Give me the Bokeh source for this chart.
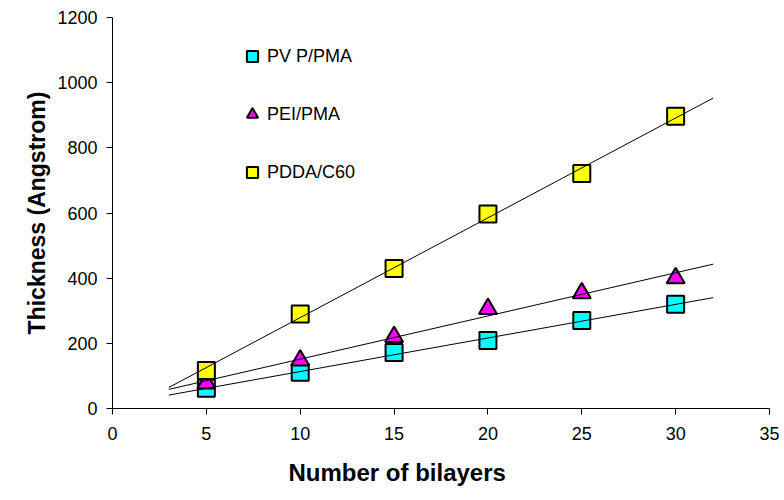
import numpy as np
from bokeh.plotting import figure
from bokeh.models import Range1d, FixedTicker, Legend, LegendItem, Title
from bokeh.embed import file_html
from bokeh.resources import INLINE

bilayers = [5, 10, 15, 20, 25, 30]
pvp_pma = [62, 111, 172, 209, 270, 320]
pei_pma = [77, 148, 220, 306, 354, 400]
pdda_c60 = [117, 290, 430, 597, 721, 897]
series_names = ["PV P/PMA", "PEI/PMA", "PDDA/C60"]
trend_x = [3, 32]
x_ticks = [0, 5, 10, 15, 20, 25, 30, 35]
y_ticks = [0, 200, 400, 600, 800, 1000, 1200]

FONT = "Liberation Sans"

p = figure(width=784, height=500, output_backend="svg", toolbar_location=None,
           x_range=Range1d(0, 35), y_range=Range1d(0, 1200),
           min_border_left=112, min_border_right=15, min_border_top=17, min_border_bottom=5)
p.outline_line_color = None
p.xgrid.visible = False
p.ygrid.visible = False

for ax in (p.xaxis[0], p.yaxis[0]):
    ax.major_tick_in = 0
    ax.major_tick_out = 6
    ax.minor_tick_out = 0
    ax.minor_tick_in = 0
    ax.axis_line_color = "black"
    ax.major_tick_line_color = "black"
    ax.major_label_text_font = FONT
    ax.major_label_text_font_size = "18px"
    ax.major_label_text_color = "black"

p.xaxis.ticker = FixedTicker(ticks=x_ticks)
p.yaxis.ticker = FixedTicker(ticks=y_ticks)
p.xaxis.major_label_standoff = 12
p.yaxis.major_label_standoff = 9

p.yaxis.axis_label = "Thickness (Angstrom)"
p.yaxis.axis_label_text_font = FONT
p.yaxis.axis_label_text_font_style = "bold"
p.yaxis.axis_label_text_font_size = "23px"
p.yaxis.axis_label_text_color = "black"
p.yaxis.axis_label_standoff = 4

r1 = p.scatter(bilayers, pvp_pma, marker="square", size=17, fill_color="#00FFFF",
               line_color="black", line_width=2)
r2 = p.scatter(bilayers, pei_pma, marker="triangle", size=18, fill_color="#FF00FF",
               line_color="black", line_width=2)
r3 = p.scatter(bilayers, pdda_c60, marker="square", size=17, fill_color="#FFFF00",
               line_color="black", line_width=2)

for ys in (pvp_pma, pei_pma, pdda_c60):
    m, b = np.polyfit(bilayers, ys, 1)
    p.line(trend_x, [m * x + b for x in trend_x], line_color="black", line_width=1)

legend = Legend(items=[LegendItem(label=series_names[0], renderers=[r1]),
                       LegendItem(label=series_names[1], renderers=[r2]),
                       LegendItem(label=series_names[2], renderers=[r3])],
                location=(126, 222), orientation="vertical",
                glyph_width=28, glyph_height=28, label_height=28, spacing=30,
                label_standoff=1, padding=0, margin=0,
                background_fill_alpha=0, border_line_alpha=0,
                label_text_font=FONT, label_text_font_size="18px",
                label_text_color="black")
p.add_layout(legend)

xtitle = Title(text="Number of bilayers", align="left", offset=176,
               text_font=FONT, text_font_style="bold", text_font_size="24px",
               text_color="black", standoff=29)
p.add_layout(xtitle, "below")

open("out.html", "w").write(file_html(p, INLINE))
